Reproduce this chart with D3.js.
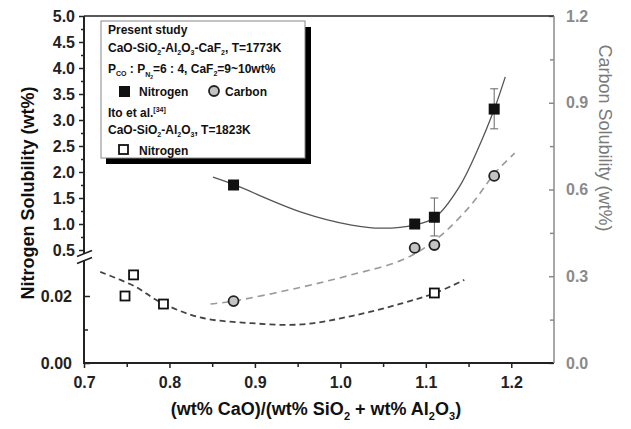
<!DOCTYPE html>
<html>
<head>
<meta charset="utf-8">
<script src="https://cdn.jsdelivr.net/npm/d3@7"></script>
<style>
  body { margin: 0; background: #fff; }
  svg text { font-family: "Liberation Sans", Arial, sans-serif; }
</style>
</head>
<body>
<div id="chart"></div>
<script>
// Present study - nitrogen (left axis, upper segment)
const nX = [0.875, 1.087, 1.110, 1.180];
const nY = [1.75, 1.00, 1.13, 3.21];
const nErrLo = [1.75, 0.93, 0.77, 2.83];
const nErrHi = [1.75, 1.07, 1.50, 3.60];

// Present study - carbon (right axis)
const cX = [0.875, 1.087, 1.110, 1.180];
const cY = [0.214, 0.398, 0.408, 0.647];

// Ito et al. - nitrogen (left axis, lower segment)
const iX = [0.748, 0.758, 0.793, 1.110];
const iY = [0.0200, 0.0263, 0.0176, 0.0209];

// fitted curves
const nFitX = [0.851, 0.875, 0.954, 1.013, 1.048, 1.087, 1.111, 1.139, 1.162, 1.181, 1.193];
const nFitY = [1.90, 1.76, 1.23, 0.98, 0.92, 0.98, 1.13, 1.71, 2.48, 3.25, 3.83];
const cFitX = [0.848, 0.875, 0.954, 1.013, 1.072, 1.111, 1.151, 1.181, 1.204];
const cFitY = [0.204, 0.214, 0.262, 0.305, 0.356, 0.425, 0.540, 0.657, 0.726];
const iFitX = [0.719, 0.760, 0.789, 0.836, 0.895, 0.954, 1.013, 1.072, 1.111, 1.145];
const iFitY = [0.0272, 0.0228, 0.0182, 0.0136, 0.0119, 0.0115, 0.0140, 0.0178, 0.0209, 0.0248];

// tick labels
const xTicks = [0.7, 0.8, 0.9, 1.0, 1.1, 1.2];
const xMinor = [0.75, 0.85, 0.95, 1.05, 1.15];
const yTopTicks = [0.5, 1.0, 1.5, 2.0, 2.5, 3.0, 3.5, 4.0, 4.5, 5.0];
const yTopMinor = [0.75, 1.25, 1.75, 2.25, 2.75, 3.25, 3.75, 4.25, 4.75];
const yLowTicks = [0.00, 0.02];
const yLowMinor = [0.01];
const cTicks = [0.0, 0.3, 0.6, 0.9, 1.2];
const cMinor = [0.15, 0.45, 0.75, 1.05];

const width = 631, height = 429;
const svg = d3.select('#chart').append('svg')
    .attr('width', width)
    .attr('height', height);

const x = d3.scaleLinear().domain([0.7, 1.25]).range([84, 554]);
const yTop = d3.scaleLinear().domain([0.5, 5.0]).range([250, 16]);
const yLow = d3.scaleLinear().domain([0, 0.03]).range([363, 262.5]);
const yC = d3.scaleLinear().domain([0, 1.2]).range([363, 16]);

const dark = '#222';
const grey = '#8a8a8a';

function styleAxis(g, color, size) {
    g.select('.domain').remove();
    g.selectAll('line').attr('stroke', color).attr('stroke-width', 1.5);
    g.selectAll('text')
        .style('fill', color)
        .style('font-size', size + 'px')
        .style('font-weight', 'bold');
}

// bottom axis
const gx = svg.append('g')
    .attr('transform', 'translate(0,363)')
    .call(d3.axisBottom(x).tickValues(xTicks).tickFormat(d3.format('.1f')).tickSize(5).tickPadding(9));
styleAxis(gx, dark, 16);
svg.append('g')
    .attr('transform', 'translate(0,363)')
    .call(d3.axisBottom(x).tickValues(xMinor).tickFormat('').tickSize(4))
    .call(g => styleAxis(g, dark, 16));

// left axis, upper segment
const gTop = svg.append('g')
    .attr('transform', 'translate(84,0)')
    .call(d3.axisLeft(yTop).tickValues(yTopTicks).tickFormat(d3.format('.1f')).tickSize(5).tickPadding(4));
styleAxis(gTop, dark, 16);
svg.append('g')
    .attr('transform', 'translate(84,0)')
    .call(d3.axisLeft(yTop).tickValues(yTopMinor).tickFormat('').tickSize(3))
    .call(g => styleAxis(g, dark, 16));

// left axis, lower segment
const gLow = svg.append('g')
    .attr('transform', 'translate(84,0)')
    .call(d3.axisLeft(yLow).tickValues(yLowTicks).tickFormat(d3.format('.2f')).tickSize(-6).tickPadding(12));
styleAxis(gLow, dark, 16);
svg.append('g')
    .attr('transform', 'translate(84,0)')
    .call(d3.axisLeft(yLow).tickValues(yLowMinor).tickFormat('').tickSize(-4))
    .call(g => styleAxis(g, dark, 16));

// right axis
const gC = svg.append('g')
    .attr('transform', 'translate(554,0)')
    .call(d3.axisRight(yC).tickValues(cTicks).tickFormat(d3.format('.1f')).tickSize(-5).tickPadding(12));
styleAxis(gC, grey, 16);
svg.append('g')
    .attr('transform', 'translate(554,0)')
    .call(d3.axisRight(yC).tickValues(cMinor).tickFormat('').tickSize(-4))
    .call(g => styleAxis(g, grey, 16));

// frame lines
svg.append('line').attr('x1', 84).attr('x2', 554).attr('y1', 363).attr('y2', 363)
    .attr('stroke', dark).attr('stroke-width', 2);
svg.append('line').attr('x1', 84).attr('x2', 554).attr('y1', 16).attr('y2', 16)
    .attr('stroke', dark).attr('stroke-width', 1.5);
svg.append('line').attr('x1', 554).attr('x2', 554).attr('y1', 16).attr('y2', 363)
    .attr('stroke', grey).attr('stroke-width', 1.5);
svg.append('line').attr('x1', 84).attr('x2', 84).attr('y1', 16).attr('y2', yTop(0.5) + 4)
    .attr('stroke', dark).attr('stroke-width', 2);
svg.append('line').attr('x1', 84).attr('x2', 84).attr('y1', yTop(0.5) + 10).attr('y2', 364)
    .attr('stroke', dark).attr('stroke-width', 2);

// axis break marks
const bY = yTop(0.5) + 7;
[-3.5, 3.5].forEach(off => {
    svg.append('line')
        .attr('x1', 77).attr('x2', 92)
        .attr('y1', bY + off + 3).attr('y2', bY + off - 3)
        .attr('stroke', dark).attr('stroke-width', 1.6);
});

// fitted curves
const lineTop = d3.line().x((d, i) => x(nFitX[i])).y(d => yTop(d)).curve(d3.curveCatmullRom);
const lineC = d3.line().x((d, i) => x(cFitX[i])).y(d => yC(d)).curve(d3.curveCatmullRom);
const lineLow = d3.line().x((d, i) => x(iFitX[i])).y(d => yLow(d)).curve(d3.curveCatmullRom);

svg.append('path')
    .datum(cFitY)
    .attr('fill', 'none')
    .attr('stroke', '#9a9a9a')
    .attr('stroke-width', 1.6)
    .attr('stroke-dasharray', '7,5')
    .attr('d', lineC);

svg.append('path')
    .datum(iFitY)
    .attr('fill', 'none')
    .attr('stroke', '#444')
    .attr('stroke-width', 1.8)
    .attr('stroke-dasharray', '6,4')
    .attr('d', lineLow);

svg.append('path')
    .datum(nFitY)
    .attr('fill', 'none')
    .attr('stroke', '#555')
    .attr('stroke-width', 1.3)
    .attr('d', lineTop);

// error bars
nX.forEach((d, i) => {
    if (nErrHi[i] === nErrLo[i]) return;
    const cx = x(d);
    svg.append('line').attr('x1', cx).attr('x2', cx)
        .attr('y1', yTop(nErrHi[i])).attr('y2', yTop(nErrLo[i]))
        .attr('stroke', '#666').attr('stroke-width', 1);
    [nErrHi[i], nErrLo[i]].forEach(v => {
        svg.append('line').attr('x1', cx - 4).attr('x2', cx + 4)
            .attr('y1', yTop(v)).attr('y2', yTop(v))
            .attr('stroke', '#666').attr('stroke-width', 1);
    });
});

// carbon circles
svg.selectAll('.carbon')
    .data(cY)
    .enter()
    .append('circle')
    .attr('class', 'carbon')
    .attr('cx', (d, i) => x(cX[i]))
    .attr('cy', d => yC(d))
    .attr('r', 5)
    .attr('fill', '#c4c4c4')
    .attr('stroke', '#222')
    .attr('stroke-width', 1.8);

// nitrogen squares
svg.selectAll('.nitro')
    .data(nY)
    .enter()
    .append('rect')
    .attr('class', 'nitro')
    .attr('x', (d, i) => x(nX[i]) - 5.5)
    .attr('y', d => yTop(d) - 5.5)
    .attr('width', 11)
    .attr('height', 11)
    .attr('fill', '#111');

// Ito open squares
svg.selectAll('.ito')
    .data(iY)
    .enter()
    .append('rect')
    .attr('class', 'ito')
    .attr('x', (d, i) => x(iX[i]) - 4.5)
    .attr('y', d => yLow(d) - 4.5)
    .attr('width', 9)
    .attr('height', 9)
    .attr('fill', '#fff')
    .attr('stroke', '#111')
    .attr('stroke-width', 1.8);

// legend
const legend = svg.append('g');
legend.append('rect').attr('x', 106).attr('y', 27).attr('width', 205).attr('height', 137).attr('fill', '#000');
legend.append('rect').attr('x', 101).attr('y', 21).attr('width', 204).attr('height', 137)
    .attr('fill', '#fff').attr('stroke', '#888').attr('stroke-width', 1);

// parts: strings are normal text, objects are shifted (sub/sup) text
function legendText(y, parts) {
    const t = legend.append('text')
        .attr('x', 108).attr('y', y)
        .style('font-size', '12px')
        .style('font-weight', 'bold')
        .style('fill', '#111');
    let shift = 0;
    parts.forEach(p => {
        if (typeof p === 'string') {
            t.append('tspan').attr('dy', -shift).text(p);
            shift = 0;
        } else {
            t.append('tspan').attr('dy', p.dy - shift).style('font-size', p.size + 'px').text(p.t);
            shift = p.dy;
        }
    });
    return t;
}
const sub = s => ({ t: s, dy: 3, size: 7 });
const sup = s => ({ t: s, dy: -5, size: 7 });

legendText(34, ['Present study']);
legendText(52, ['CaO-SiO', sub('2'), '-Al', sub('2'), 'O', sub('3'), '-CaF', sub('2'), ', T=1773K']);
legendText(73, ['P', sub('CO'), ' : P', { t: 'N', dy: 4, size: 7 }, { t: '2', dy: 6, size: 5 }, '=6 : 4, CaF', sub('2'), '=9~10wt%']);
legend.append('rect').attr('x', 119).attr('y', 86).attr('width', 11).attr('height', 11).attr('fill', '#111');
legend.append('text').attr('x', 139).attr('y', 96).style('font-size', '12px').style('font-weight', 'bold').style('fill', '#111').text('Nitrogen');
legend.append('circle').attr('cx', 214).attr('cy', 91).attr('r', 5).attr('fill', '#c4c4c4').attr('stroke', '#222').attr('stroke-width', 1.8);
legend.append('text').attr('x', 225).attr('y', 96).style('font-size', '12px').style('font-weight', 'bold').style('fill', '#111').text('Carbon');
legendText(117, ['Ito et al.', sup('[34]')]);
legendText(134, ['CaO-SiO', sub('2'), '-Al', sub('2'), 'O', sub('3'), ', T=1823K']);
legend.append('rect').attr('x', 119).attr('y', 145).attr('width', 9).attr('height', 9).attr('fill', '#fff').attr('stroke', '#111').attr('stroke-width', 1.8);
legend.append('text').attr('x', 139).attr('y', 155).style('font-size', '12px').style('font-weight', 'bold').style('fill', '#111').text('Nitrogen');

// axis titles
svg.append('text')
    .attr('transform', 'translate(34,193) rotate(-90)')
    .attr('text-anchor', 'middle')
    .style('font-size', '18px')
    .style('font-weight', 'bold')
    .style('fill', '#111')
    .text('Nitrogen Solubility (wt%)');

svg.append('text')
    .attr('transform', 'translate(599,138) rotate(90)')
    .attr('text-anchor', 'middle')
    .style('font-size', '18px')
    .style('fill', '#7a7a7a')
    .text('Carbon Solubility (wt%)');

const xt = svg.append('text')
    .attr('x', 316).attr('y', 415)
    .attr('text-anchor', 'middle')
    .style('font-size', '18px')
    .style('font-weight', 'bold')
    .style('fill', '#111');
xt.append('tspan').text('(wt% CaO)/(wt% SiO');
xt.append('tspan').attr('dy', 5).style('font-size', '11px').text('2');
xt.append('tspan').attr('dy', -5).text(' + wt% Al');
xt.append('tspan').attr('dy', 5).style('font-size', '11px').text('2');
xt.append('tspan').attr('dy', -5).text('O');
xt.append('tspan').attr('dy', 5).style('font-size', '11px').text('3');
xt.append('tspan').attr('dy', -5).text(')');
</script>
</body>
</html>
